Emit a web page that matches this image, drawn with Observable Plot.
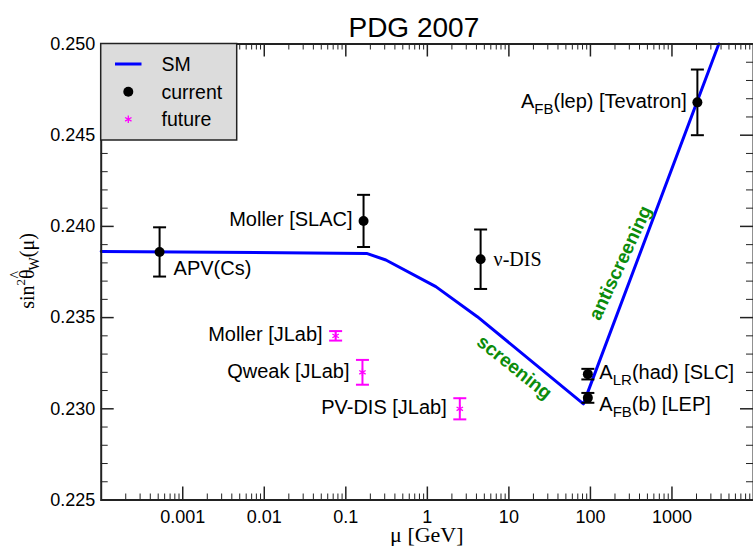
<!DOCTYPE html>
<html><head><meta charset="utf-8">
<script src="https://cdn.jsdelivr.net/npm/d3@7"></script>
<script src="https://cdn.jsdelivr.net/npm/@observablehq/plot@0.6"></script>
<style>body{margin:0;background:#fff}</style>
</head><body><div id="chart"></div>
<script>
// ---- data ----
const smMu  = [0.0001, 0.18, 0.31, 1.27, 4.1, 82, 3750];
const smVal = [0.23863, 0.23852, 0.23816, 0.2367, 0.23505, 0.23027, 0.2500];

const curName = ["APV(Cs)", "Moller [SLAC]", "ν-DIS", "AFB(lep) [Tevatron]", "ALR(had) [SLC]", "AFB(b) [LEP]"];
const curMu   = [0.00052, 0.165, 4.5, 2050, 93, 93];
const curVal  = [0.2386, 0.2403, 0.2382, 0.2468, 0.2319, 0.2306];
const curErr  = [0.00135, 0.00143, 0.00163, 0.0018, 0.00029, 0.00027];

const futName = ["Moller [JLab]", "Qweak [JLab]", "PV-DIS [JLab]"];
const futMu   = [0.075, 0.16, 2.5];
const futVal  = [0.2340, 0.2320, 0.2300];
const futErr  = [0.00026, 0.00068, 0.00058];

const xTicks = [0.001, 0.01, 0.1, 1, 10, 100, 1000];
const xTickLabels = ["0.001", "0.01", "0.1", "1", "10", "100", "1000"];
const yTicks = [0.225, 0.230, 0.235, 0.240, 0.245, 0.250];
const yTickLabels = ["0.225", "0.230", "0.235", "0.240", "0.245", "0.250"];

const annotations = [
  {mu: 11.7, s: 0.23227, text: "screening", rotate: 38.7},
  {mu: 233, s: 0.2380, text: "antiscreening", rotate: -65}
];

// ---- derived tables ----
const sm = smMu.map((m, i) => ({mu: m, s: smVal[i]}));
const cur = curName.map((n, i) => ({name: n, mu: curMu[i], v: curVal[i], e: curErr[i]}));
const fut = futName.map((n, i) => ({name: n, mu: futMu[i], v: futVal[i], e: futErr[i]}));

const xMinor = [];
for (let e = -4; e <= 3; e++) for (let k = 2; k <= 9; k++) xMinor.push(k * Math.pow(10, e));
const yMinor = d3.range(226, 250).filter(v => v % 5 !== 0).map(v => v / 1000);

const W = 753, H = 546, mT = 43.5, mB = 46.5, mL = 100.7, mR = 0;
const innerH = H - mT - mB, innerW = W - mL - mR;
const axisColor = "#222";
const green = "#0b8c0b";
const magenta = "#ff00ff";

const cap = {draw(ctx, size) { const r = Math.sqrt(size / Math.PI); ctx.moveTo(-r, 0); ctx.lineTo(r, 0); }};

const plainLeft = cur.filter(d => d.name === "Moller [SLAC]");
const apv = cur.filter(d => d.name === "APV(Cs)");
const nudis = cur.filter(d => d.name === "ν-DIS");

const chart = Plot.plot({
  width: W, height: H,
  marginTop: mT, marginBottom: mB, marginLeft: mL, marginRight: mR,
  style: {fontFamily: "'Liberation Sans', Arial, sans-serif", fontSize: "18px", color: "#000", background: "#fff"},
  x: {type: "log", domain: [1e-4, 1e4]},
  y: {domain: [0.225, 0.25]},
  marks: [
    // inward ticks
    Plot.tickX(xMinor, {x: d => d, insetTop: innerH - 6, stroke: axisColor, strokeWidth: 1}),
    Plot.tickX(xMinor, {x: d => d, insetBottom: innerH - 6, stroke: axisColor, strokeWidth: 1}),
    Plot.tickX(xTicks, {x: d => d, insetTop: innerH - 13, stroke: axisColor, strokeWidth: 1.5}),
    Plot.tickX(xTicks, {x: d => d, insetBottom: innerH - 13, stroke: axisColor, strokeWidth: 1.5}),
    Plot.tickY(yMinor, {y: d => d, insetRight: innerW - 7, stroke: axisColor, strokeWidth: 1}),
    Plot.tickY(yMinor, {y: d => d, insetLeft: innerW - 7, stroke: axisColor, strokeWidth: 1}),
    Plot.tickY(yTicks, {y: d => d, insetRight: innerW - 13, stroke: axisColor, strokeWidth: 1.5}),
    Plot.tickY(yTicks, {y: d => d, insetLeft: innerW - 13, stroke: axisColor, strokeWidth: 1.5}),
    Plot.axisX({ticks: xTicks, tickFormat: d => xTickLabels[xTicks.indexOf(d)], tickSize: 0, tickPadding: 10, label: null, fontSize: 18}),
    Plot.axisY({ticks: yTicks, tickFormat: d => yTickLabels[yTicks.indexOf(d)], tickSize: 0, tickPadding: 6, label: null, fontSize: 18}),
    // SM curve
    Plot.line(sm, {x: "mu", y: "s", stroke: "#0000ff", strokeWidth: 3}),
    // current data
    Plot.ruleX(cur, {x: "mu", y1: d => d.v - d.e, y2: d => d.v + d.e, stroke: "#000", strokeWidth: 2}),
    Plot.dot(cur, {x: "mu", y: d => d.v - d.e, symbol: cap, r: 6.5, fill: "none", stroke: "#000", strokeWidth: 2}),
    Plot.dot(cur, {x: "mu", y: d => d.v + d.e, symbol: cap, r: 6.5, fill: "none", stroke: "#000", strokeWidth: 2}),
    Plot.dot(cur, {x: "mu", y: "v", r: 5, fill: "#000"}),
    // future data
    Plot.ruleX(fut, {x: "mu", y1: d => d.v - d.e, y2: d => d.v + d.e, stroke: magenta, strokeWidth: 2}),
    Plot.dot(fut, {x: "mu", y: d => d.v - d.e, symbol: cap, r: 6.5, fill: "none", stroke: magenta, strokeWidth: 2}),
    Plot.dot(fut, {x: "mu", y: d => d.v + d.e, symbol: cap, r: 6.5, fill: "none", stroke: magenta, strokeWidth: 2}),
    Plot.dot(fut, {x: "mu", y: "v", r: 3.5, symbol: "asterisk", stroke: magenta, strokeWidth: 1.3}),
    // labels
    Plot.text(apv, {x: "mu", y: "v", text: "name", textAnchor: "start", dx: 14, dy: 17, fontSize: 20}),
    Plot.text(plainLeft, {x: "mu", y: "v", text: "name", textAnchor: "end", dx: -11, dy: -1, fontSize: 20}),
    Plot.text(nudis, {x: "mu", y: "v", text: "name", textAnchor: "start", dx: 13, dy: 0, fontSize: 20, fontFamily: "'Liberation Serif', 'Times New Roman', serif"}),
    Plot.text(fut, {x: "mu", y: "v", text: "name", textAnchor: "end", dx: -13, dy: -1, fontSize: 20}),
    // annotations
    Plot.text(annotations, {x: "mu", y: "s", text: "text", rotate: d => d.rotate, fill: green, fontWeight: "bold", fontSize: 19}),
    // title
    Plot.text(["PDG 2007"], {text: d => d, frameAnchor: "top", dy: -26.5, dx: -13.5, fontSize: 28}),
    Plot.frame({stroke: axisColor, strokeWidth: 2})
  ]
});

document.getElementById("chart").appendChild(chart);

const svg = d3.select(chart);
const xs = chart.scale("x"), ys = chart.scale("y");
const sans = "'Liberation Sans', Arial, sans-serif";
const serif = "'Liberation Serif', 'Times New Roman', serif";

// subscripted labels
function subLabel(d, main, sub, rest, anchor, dx, dy) {
  const px = xs.apply(d.mu) + dx, py = ys.apply(d.v) + dy;
  const t = svg.append("text").attr("x", px).attr("y", py).attr("dy", "0.35em")
    .attr("text-anchor", anchor).attr("font-family", sans).attr("font-size", 20).attr("fill", "#000");
  t.append("tspan").text(main);
  t.append("tspan").attr("font-size", 15).attr("dy", 6).text(sub);
  t.append("tspan").attr("dy", -6).text(rest);
}
subLabel(cur[3], "A", "FB", "(lep) [Tevatron]", "end", -10, -1);
subLabel(cur[4], "A", "LR", "(had) [SLC]", "start", 12, -1.5);
subLabel(cur[5], "A", "FB", "(b) [LEP]", "start", 12, 6.5);

// axis titles
svg.append("text").attr("x", mL + innerW / 2).attr("y", 542)
  .attr("text-anchor", "middle").attr("font-family", serif).attr("font-size", 22).attr("fill", "#000").text("μ [GeV]");

const yl = svg.append("text").attr("transform", "translate(34,271) rotate(-90)")
  .attr("text-anchor", "middle").attr("font-family", serif).attr("font-size", 20).attr("fill", "#000");
yl.append("tspan").text("sin");
yl.append("tspan").attr("font-size", 13).attr("dy", -9).text("2");
yl.append("tspan").attr("font-size", 20).attr("dy", 9).text("θ");
yl.append("tspan").attr("font-size", 16).attr("dx", -9).attr("dy", -13).text("^");
yl.append("tspan").attr("font-size", 14).attr("dx", 0.5).attr("dy", 18).text("W");
yl.append("tspan").attr("font-size", 20).attr("dy", -5).text("(μ)");

// legend
const lg = svg.append("g");
lg.append("rect").attr("x", mL).attr("y", mT).attr("width", 136).attr("height", 96.5)
  .attr("fill", "#dcdcdc").attr("stroke", axisColor).attr("stroke-width", 1.5);
lg.append("line").attr("x1", 115).attr("x2", 141.5).attr("y1", 64).attr("y2", 64)
  .attr("stroke", "#0000ff").attr("stroke-width", 3);
lg.append("circle").attr("cx", 128.3).attr("cy", 91.7).attr("r", 5).attr("fill", "#000");
lg.append("path").attr("transform", "translate(128.3,119.3)")
  .attr("d", d3.symbol(d3.symbolAsterisk, 3.5 * 3.5 * Math.PI)()).attr("fill", "none")
  .attr("stroke", magenta).attr("stroke-width", 1.3);
[["SM", 64], ["current", 91.7], ["future", 119.3]].forEach(([t, y]) => {
  lg.append("text").attr("x", 161.5).attr("y", y).attr("dy", "0.35em").attr("text-anchor", "start")
    .attr("font-family", sans).attr("font-size", 19.5).attr("fill", "#000").text(t);
});
</script>
</body></html>
